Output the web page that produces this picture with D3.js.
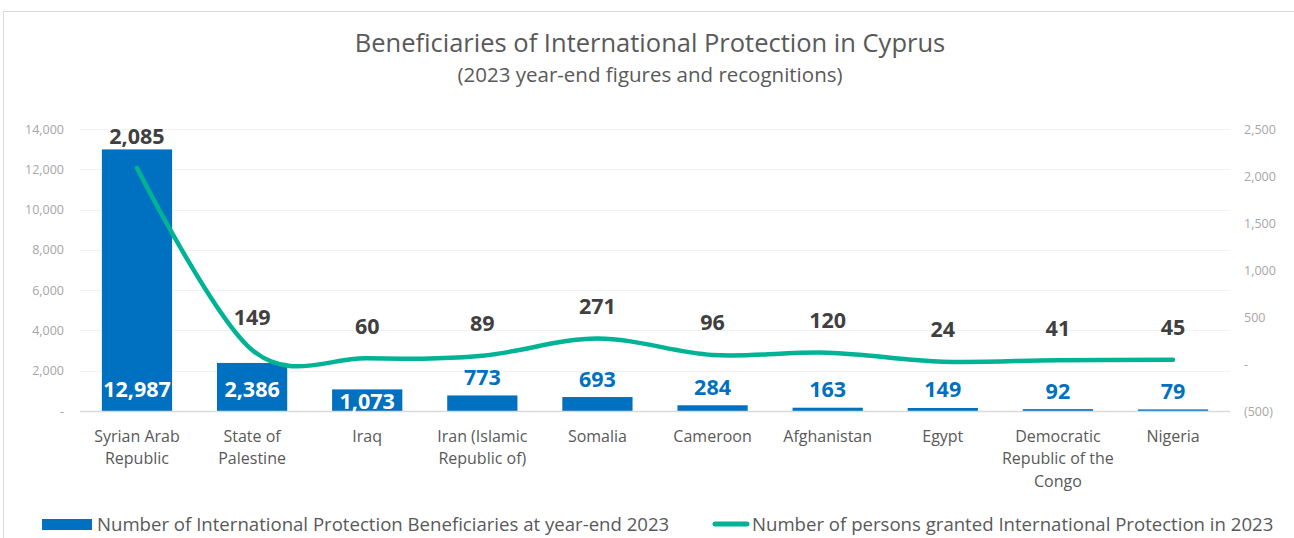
<!DOCTYPE html>
<html>
<head>
<meta charset="utf-8">
<script src="https://cdn.jsdelivr.net/npm/d3@7/dist/d3.min.js"></script>
<style>
  body { margin: 0; background: #fff; }
  svg { display: block; font-family: "Open Sans", sans-serif; }
</style>
</head>
<body>
<svg id="chart" width="1294" height="538"></svg>
<script>
var categories = ["Syrian Arab\nRepublic", "State of\nPalestine", "Iraq", "Iran (Islamic\nRepublic of)", "Somalia",
    "Cameroon", "Afghanistan", "Egypt", "Democratic\nRepublic of the\nCongo", "Nigeria"];
var beneficiaries = [12987, 2386, 1073, 773, 693, 284, 163, 149, 92, 79];
var granted = [2085, 149, 60, 89, 271, 96, 120, 24, 41, 45];
var leftTicks = [0, 2000, 4000, 6000, 8000, 10000, 12000, 14000];
var rightTicks = [-500, 0, 500, 1000, 1500, 2000, 2500];

var BLUE = "#0070C0";
var TEAL = "#00B395";
var GREY = "#595959";

var svg = d3.select("#chart");

// outer chart frame
svg.append("rect")
    .attr("x", 3.5).attr("y", 11.5)
    .attr("width", 1400).attr("height", 700)
    .attr("fill", "none").attr("stroke", "#D9D9D9");

var x = d3.scaleBand().domain(categories).range([80, 1230])
    .paddingInner(0.39).paddingOuter(0.19);
var yL = d3.scaleLinear().domain([0, 14000]).range([411, 129]);
var yR = d3.scaleLinear().domain([-500, 2500]).range([411, 129]);

var fmt = d3.format(",");
function tickFmt(v) {
    if (v === 0) return "-";
    if (v < 0) return "(" + fmt(-v) + ")";
    return fmt(v);
}

// gridlines
svg.append("g").selectAll("line")
    .data(leftTicks.slice(1)).enter()
    .append("line")
    .attr("x1", 80).attr("x2", 1230)
    .attr("y1", function (d) { return Math.round(yL(d)) + 0.5; })
    .attr("y2", function (d) { return Math.round(yL(d)) + 0.5; })
    .attr("stroke", "#F2F2F2");

// left axis
var left = svg.append("g").attr("transform", "translate(64,0)")
    .call(d3.axisLeft(yL).tickValues(leftTicks).tickFormat(tickFmt).tickSize(0).tickPadding(0));
left.select(".domain").remove();
left.selectAll("text").attr("fill", "#A6A6A6").attr("font-size", 12.5)
    .attr("font-family", "Open Sans, sans-serif");

// right axis
var right = svg.append("g").attr("transform", "translate(1244,0)")
    .call(d3.axisRight(yR).tickValues(rightTicks).tickFormat(tickFmt).tickSize(0).tickPadding(0));
right.select(".domain").remove();
right.selectAll("text").attr("fill", "#A6A6A6").attr("font-size", 12.5)
    .attr("font-family", "Open Sans, sans-serif");

// bars
svg.append("g").selectAll("rect")
    .data(beneficiaries).enter()
    .append("rect")
    .attr("x", function (d, i) { return x(categories[i]); })
    .attr("width", x.bandwidth())
    .attr("y", function (d) { return yL(d); })
    .attr("height", function (d) { return yL(0) - yL(d); })
    .attr("fill", BLUE);

// baseline
svg.append("line")
    .attr("x1", 80).attr("x2", 1230)
    .attr("y1", 411.5).attr("y2", 411.5)
    .attr("stroke", "#D9D9D9").attr("stroke-width", 1.5);

// bar labels: inside base when the bar is tall enough, otherwise above
svg.append("g").selectAll("text")
    .data(beneficiaries).enter()
    .append("text")
    .attr("x", function (d, i) { return x(categories[i]) + x.bandwidth() / 2; })
    .attr("y", function (d) {
        var top = yL(d), base = yL(0);
        if (base - top >= 20) return Math.max(base - 23, top + 11);
        return top - 19;
    })
    .attr("dominant-baseline", "central")
    .attr("text-anchor", "middle")
    .attr("font-size", 21.5).attr("font-weight", "bold")
    .attr("fill", function (d) { return yL(0) - yL(d) >= 20 ? "#fff" : BLUE; })
    .text(function (d) { return fmt(d); });

// line (Excel style smoothing)
var line = d3.line()
    .x(function (d, i) { return x(categories[i]) + x.bandwidth() / 2; })
    .y(function (d) { return yR(d); })
    .curve(d3.curveCatmullRom.alpha(0));

svg.append("path")
    .datum(granted)
    .attr("d", line)
    .attr("fill", "none")
    .attr("stroke", TEAL)
    .attr("stroke-width", 4.5)
    .attr("stroke-linecap", "round");

// line labels
svg.append("g").selectAll("text")
    .data(granted).enter()
    .append("text")
    .attr("x", function (d, i) { return x(categories[i]) + x.bandwidth() / 2; })
    .attr("y", function (d) { return Math.max(yR(d) - 33, 129); })
    .attr("dominant-baseline", "central")
    .attr("text-anchor", "middle")
    .attr("font-size", 21.5).attr("font-weight", "bold")
    .attr("fill", "#404040")
    .text(function (d) { return fmt(d); });

// category labels
svg.append("g").selectAll("text")
    .data(categories).enter()
    .append("text")
    .attr("x", function (d) { return x(d) + x.bandwidth() / 2; })
    .attr("y", 441.5)
    .attr("text-anchor", "middle")
    .attr("font-size", 16)
    .attr("fill", GREY)
    .each(function (d) {
        var t = d3.select(this);
        d.split("\n").forEach(function (part, k) {
            t.append("tspan")
                .attr("x", t.attr("x"))
                .attr("dy", k === 0 ? 0 : 22.5)
                .text(part);
        });
    });

// titles
svg.append("text")
    .attr("x", 650).attr("y", 52)
    .attr("text-anchor", "middle")
    .attr("font-size", 25.5).attr("fill", GREY)
    .text("Beneficiaries of International Protection in Cyprus");
svg.append("text")
    .attr("x", 650).attr("y", 82)
    .attr("text-anchor", "middle")
    .attr("font-size", 20.5).attr("fill", GREY)
    .text("(2023 year-end figures and recognitions)");

// legend
var legend = svg.append("g");
legend.append("rect")
    .attr("x", 42).attr("y", 519).attr("width", 50).attr("height", 11)
    .attr("fill", BLUE);
legend.append("text")
    .attr("x", 97).attr("y", 531)
    .attr("font-size", 18.6).attr("fill", GREY)
    .text("Number of International Protection Beneficiaries at year-end 2023");
legend.append("line")
    .attr("x1", 715).attr("x2", 747).attr("y1", 524).attr("y2", 524)
    .attr("stroke", TEAL).attr("stroke-width", 5).attr("stroke-linecap", "round");
legend.append("text")
    .attr("x", 752).attr("y", 531)
    .attr("font-size", 18.6).attr("fill", GREY)
    .text("Number of persons granted International Protection in 2023");
</script>
</body>
</html>
